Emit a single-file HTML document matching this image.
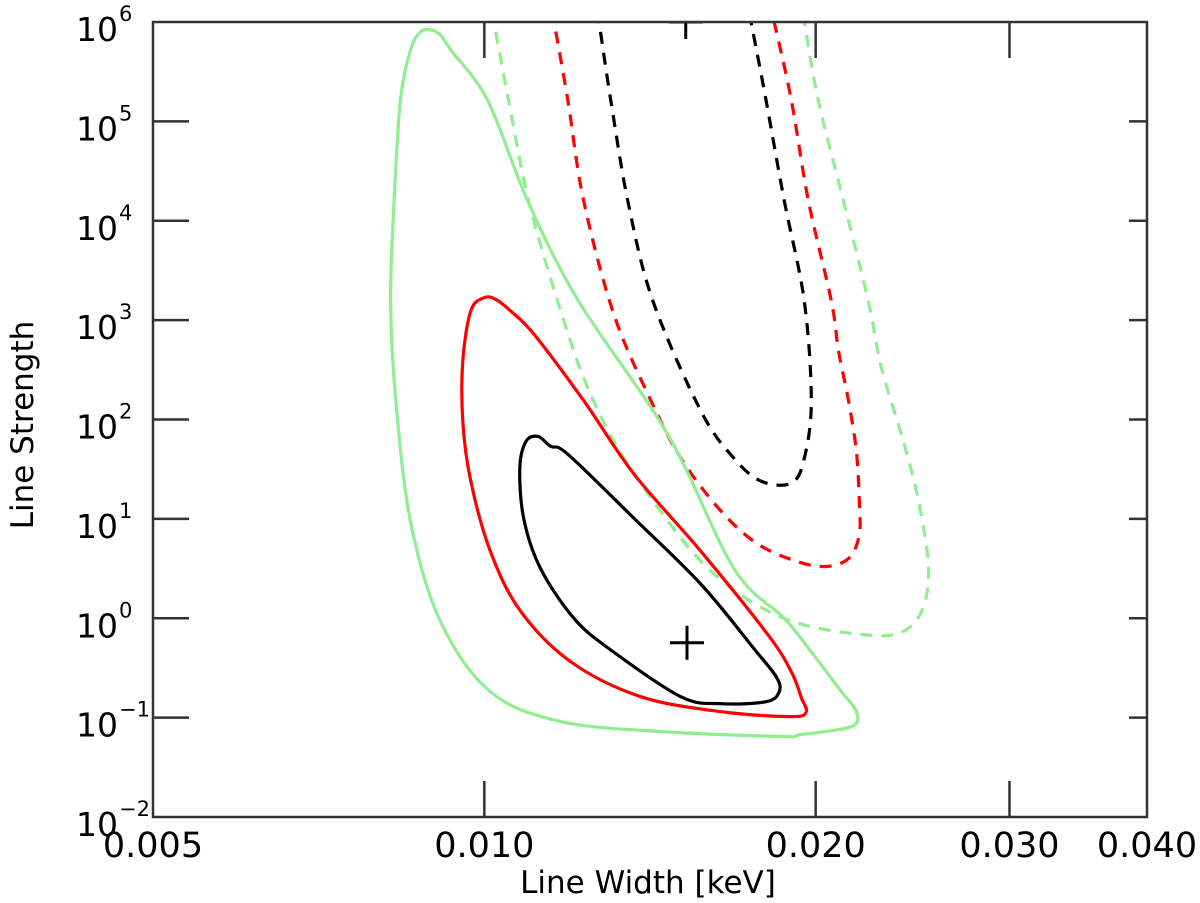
<!DOCTYPE html>
<html><head><meta charset="utf-8"><style>
html,body{margin:0;padding:0;background:#fff;}
svg{display:block;font-family:"DejaVu Sans","Liberation Sans",sans-serif;}
</style></head><body>
<svg id="chart" width="1200" height="903" viewBox="0 0 1200 903" xmlns="http://www.w3.org/2000/svg">
<defs><clipPath id="plotclip"><rect x="153" y="22" width="994" height="795"/></clipPath></defs>
<rect x="0" y="0" width="1200" height="903" fill="#fff"/>
<g id="series" clip-path="url(#plotclip)"></g>
<g id="axes"></g>
<text x="648" y="893" font-size="31" text-anchor="middle" fill="#000">Line Width  [keV]</text>
<text x="0" y="0" font-size="31" text-anchor="middle" fill="#000" transform="translate(33,425) rotate(-90)">Line Strength</text>
</svg>
<script>
const xTicks=[0.005,0.010,0.020,0.030,0.040];
const xTickLabels=["0.005","0.010","0.020","0.030","0.040"];
const yTickExps=[-2,-1,0,1,2,3,4,5,6];
// contours: x in keV, y as log10(line strength)
const blackSolidX=[0.01091,0.01119,0.01149,0.01191,0.01368,0.01574,0.01759,0.01842,0.01853,0.01803,0.01641,0.01509,0.01303,0.01206,0.01125,0.01086,0.01077];
const blackSolidY=[1.78,1.83,1.73,1.65,1.005,0.34,-0.31,-0.59,-0.74,-0.84,-0.86,-0.79,-0.32,0.0,0.50,1.0,1.51];
const redSolidX=[0.00999,0.00972,0.00956,0.00956,0.00972,0.01013,0.01079,0.01199,0.01388,0.01641,0.01901,0.01961,0.01941,0.01901,0.01811,0.01574,0.01368,0.01231,0.01109,0.01057,0.01024];
const redSolidY=[3.225,3.094,2.59,1.98,1.38,0.67,0.07,-0.44,-0.79,-0.94,-0.99,-0.94,-0.80,-0.54,-0.17,0.67,1.45,2.19,2.86,3.09,3.21];
const greenSolidX=[0.00894,0.00875,0.00857,0.00839,0.00828,0.00822,0.00831,0.00857,0.00912,0.01013,0.01174,0.01447,0.01861,0.01941,0.02155,0.02178,0.02111,0.01982,0.01873,0.01686,0.01468,0.01218,0.01095,0.01007,0.00932,0.00912];
const greenSolidY=[5.92,5.90,5.72,5.21,4.20,3.19,2.19,0.97,-0.03,-0.74,-1.04,-1.14,-1.19,-1.17,-1.09,-0.94,-0.74,-0.34,0.0,0.50,1.85,3.19,4.20,5.21,5.72,5.87];
const blackDashX=[0.01265,0.01271,0.01303,0.01350,0.01423,0.01574,0.01686,0.01784,0.01901,0.01953,0.01982,0.01953,0.01873,0.01803,0.01747,0.01740];
const blackDashY=[6.1,6.0,5.21,4.20,3.19,2.08,1.61,1.38,1.36,1.61,2.19,3.19,4.20,5.21,6.0,6.1];
const redDashX=[0.01150,0.01157,0.01191,0.01231,0.01311,0.01417,0.01509,0.01631,0.01759,0.01901,0.02037,0.02142,0.02191,0.02191,0.02178,0.02142,0.02098,0.02067,0.01970,0.01901,0.01834,0.01825];
const redDashY=[6.1,6.0,5.21,4.20,3.06,2.19,1.61,1.11,0.77,0.59,0.52,0.60,0.84,1.18,1.68,2.19,2.69,3.19,4.20,5.21,6.0,6.1];
const greenDashX=[0.01015,0.01020,0.01052,0.01097,0.01166,0.01231,0.01311,0.01417,0.01574,0.01747,0.01941,0.02233,0.02393,0.02496,0.02533,0.02480,0.02393,0.02295,0.02233,0.02120,0.02011,0.01953,0.01945];
const greenDashY=[6.1,6.0,5.21,4.20,3.19,2.42,1.78,1.21,0.57,0.17,-0.06,-0.17,-0.14,0.07,0.50,1.18,1.85,2.52,3.19,4.20,5.21,6.0,6.1];
const bestFitX=[0.01528,0.01524];
const bestFitY=[-0.246,6.0];

const L=153,R=1147,T=22,B=817;
const xmin=Math.log10(0.005),xmax=Math.log10(0.040),ymin=-2,ymax=6;
function sx(v){return L+(Math.log10(v)-xmin)/(xmax-xmin)*(R-L);}
function sy(e){return B-(e-ymin)/(ymax-ymin)*(B-T);}
const NS="http://www.w3.org/2000/svg";
const series=document.getElementById('series');
const axes=document.getElementById('axes');

function smoothPath(xs,ys,closed){
  const p=xs.map((x,i)=>[sx(x),sy(ys[i])]);
  const n=p.length;
  const get=i=>closed?p[(i+n)%n]:p[Math.max(0,Math.min(n-1,i))];
  let d="M"+p[0][0].toFixed(1)+","+p[0][1].toFixed(1);
  const segs=closed?n:n-1;
  for(let i=0;i<segs;i++){
    const p0=get(i-1),p1=get(i),p2=get(i+1),p3=get(i+2);
    const c1=[p1[0]+(p2[0]-p0[0])/6,p1[1]+(p2[1]-p0[1])/6];
    const c2=[p2[0]-(p3[0]-p1[0])/6,p2[1]-(p3[1]-p1[1])/6];
    d+="C"+c1[0].toFixed(1)+","+c1[1].toFixed(1)+" "+c2[0].toFixed(1)+","+c2[1].toFixed(1)+" "+p2[0].toFixed(1)+","+p2[1].toFixed(1);
  }
  if(closed)d+="Z";
  return d;
}
function addContour(xs,ys,color,closed,dashed,name){
  const el=document.createElementNS(NS,'path');
  el.setAttribute('d',smoothPath(xs,ys,closed));
  el.setAttribute('fill','none');
  el.setAttribute('stroke',color);
  el.setAttribute('stroke-width','3.2');
  if(dashed)el.setAttribute('stroke-dasharray','12 9');
  
  
  series.appendChild(el);
}
addContour(greenDashX,greenDashY,'#90ee90',false,true,'green-dashed-contour');
addContour(redDashX,redDashY,'#ff0000',false,true,'red-dashed-contour');
addContour(blackDashX,blackDashY,'#000000',false,true,'black-dashed-contour');
addContour(greenSolidX,greenSolidY,'#90ee90',true,false,'green-solid-contour');
addContour(redSolidX,redSolidY,'#ff0000',true,false,'red-solid-contour');
addContour(blackSolidX,blackSolidY,'#000000',true,false,'black-solid-contour');
for(let i=0;i<bestFitX.length;i++){
  const cx=sx(bestFitX[i]),cy=sy(bestFitY[i]);
  const m=document.createElementNS(NS,'path');
  m.setAttribute('d',`M${cx-17},${cy}H${cx+17}M${cx},${cy-17}V${cy+17}`);
  m.setAttribute('stroke','#000');
  m.setAttribute('stroke-width','3');
  
  
  series.appendChild(m);
}

function line(x1,y1,x2,y2,name){
  const l=document.createElementNS(NS,'line');
  l.setAttribute('x1',x1);l.setAttribute('y1',y1);l.setAttribute('x2',x2);l.setAttribute('y2',y2);
  l.setAttribute('stroke','#333');l.setAttribute('stroke-width','2.5');
  
  
  axes.appendChild(l);
}
const frame=document.createElementNS(NS,'rect');
frame.setAttribute('x',L);frame.setAttribute('y',T);frame.setAttribute('width',R-L);frame.setAttribute('height',B-T);
frame.setAttribute('fill','none');frame.setAttribute('stroke','#333');frame.setAttribute('stroke-width','2.5');


axes.appendChild(frame);

xTicks.forEach((v,i)=>{
  const x=sx(v);
  if(i>0&&i<xTicks.length-1){line(x,B,x,B-36,'x-tick');line(x,T,x,T+36,'x-tick-top');}
  const t=document.createElementNS(NS,'text');
  t.setAttribute('x',x);t.setAttribute('y',857);t.setAttribute('font-size','35');t.setAttribute('text-anchor','middle');
  t.textContent=xTickLabels[i];
  
  
  axes.appendChild(t);
});
yTickExps.forEach(e=>{
  const y=sy(e);
  if(e>ymin&&e<ymax){line(L,y,L+36,y,'y-tick');line(R,y,R-18,y,'y-tick-right');}
  const t=document.createElementNS(NS,'text');
  t.setAttribute('x',118);t.setAttribute('y',y+19);t.setAttribute('font-size','33');t.setAttribute('text-anchor','end');
  t.textContent='10';
  
  
  axes.appendChild(t);
  const s=document.createElementNS(NS,'text');
  s.setAttribute('x',119);s.setAttribute('y',y-1);s.setAttribute('font-size','21');
  s.textContent=(e<0?'\u2212':'')+Math.abs(e);
  
  
  axes.appendChild(s);
});
</script>
</body></html>
